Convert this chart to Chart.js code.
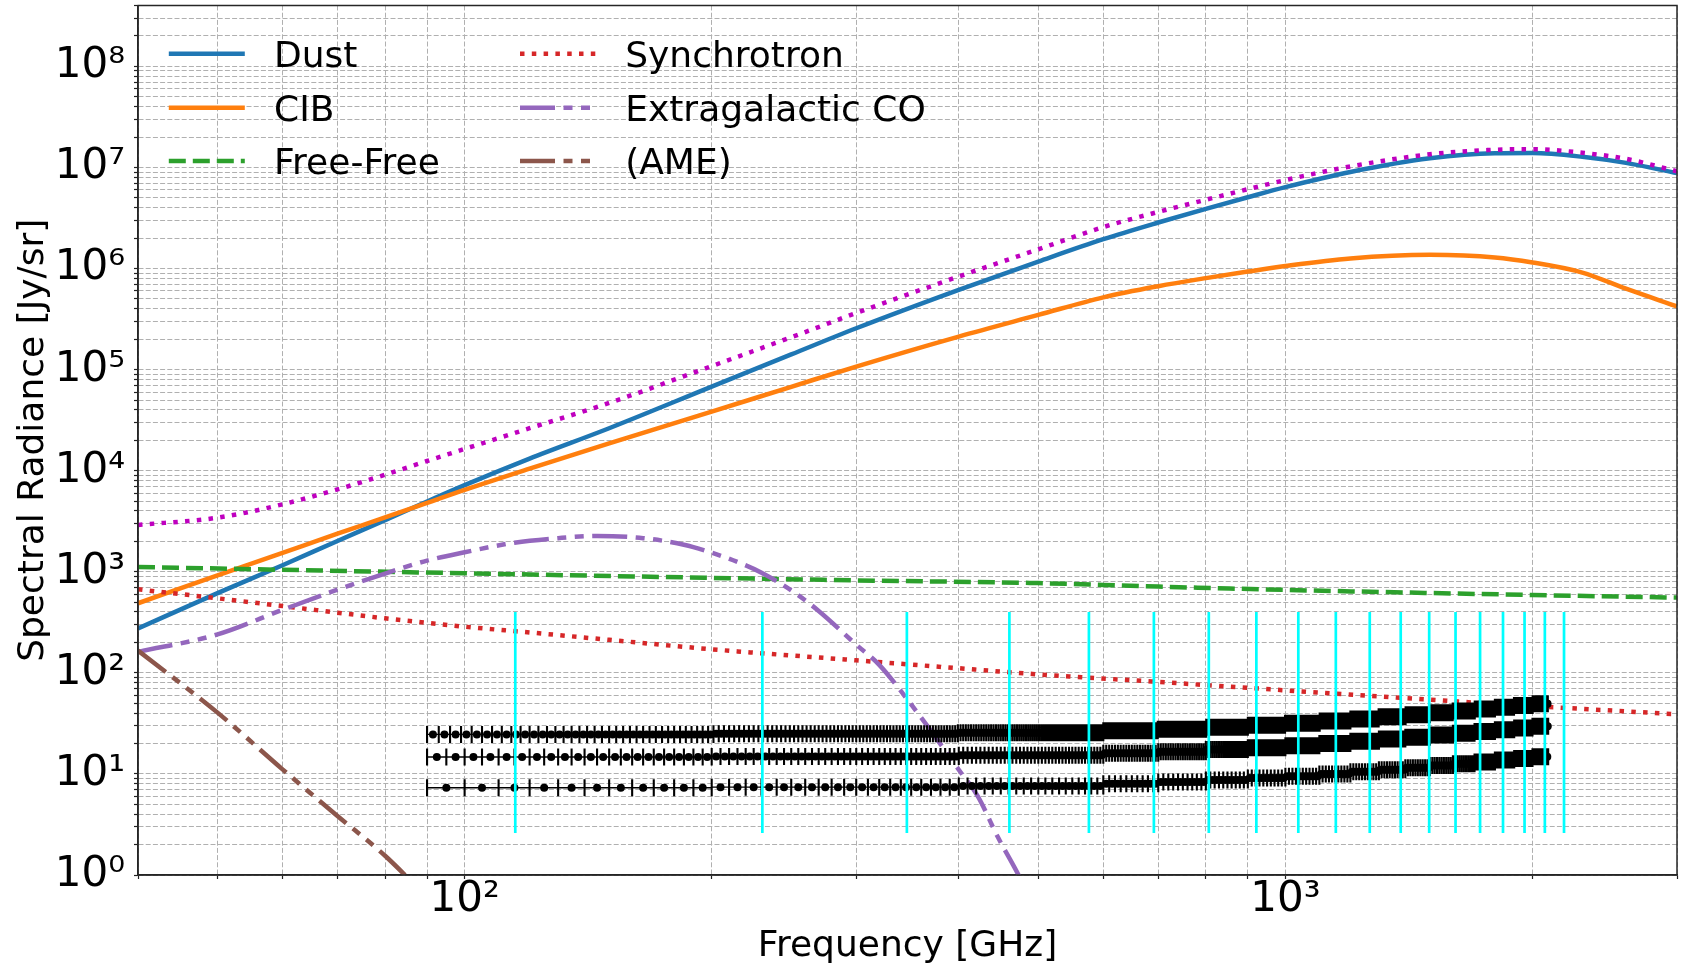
<!DOCTYPE html>
<html>
<head>
<meta charset="utf-8">
<script src="https://cdn.jsdelivr.net/npm/chart.js"></script>
<style>
html, body { margin: 0; padding: 0; background: #ffffff; }
#wrap { position: relative; width: 1686px; height: 968px; }
canvas { display: block; }
</style>
</head>
<body>
<div id="wrap"><canvas id="c" width="1686" height="968"></canvas></div>
<script>
// ---------------- Data ----------------
// Frequencies in GHz, spectral radiance in Jy/sr
const freqDust = [40,50,60,70,80,90,100,120,150,200,250,300,400,500,600,700,800,900,1000,1200,1500,1800,2000,2300,2600,3000];
const dust = [275,614,1161,2018,3236,4955,7194,13180,26300,67920,141300,256400,615200,1172000,1950000,2851000,3890000,5070000,6383000,9016000,12300000,13800000,13870000,12740000,11090000,8790000];
const cib = [488,920,1538,2377,3443,4797,6457,10470,18620,38370,67610,107200,212300,347500,518800,668300,803500,933300,1059000,1259000,1365000,1288000,1148000,912000,631000,421700];
const total = [2904,3428,4645,6531,9120,12470,16410,26300,46770,108400,208900,363100,833700,1549000,2570000,3631000,4786000,6095000,7499000,10230000,13490000,14960000,15140000,13960000,12160000,9160000];

const freqFF = [40,100,200,300,500,700,1000,2000,3000];
const freeFree = [1115,966,870,822,772,713,661,589,555];

const freqSync = [40,50,60,70,80,100,120,150,200,300,400,500,700,1000,1300,1800,2300,3000];
const synchrotron = [670,546,458,394,346,286,251,212,171,133,111,96.6,81.3,67.1,58.5,49.3,44,38.9];

const freqCO = [40,50,60,70,80,90,100,115,130,145,165,185,200,215,230,250,270,300,320,346,366,400,422,446,473,500];
const extragalacticCO = [161,240,420,665,960,1290,1560,1940,2150,2260,2150,1850,1545,1250,980,655,410,190,120,55,30,11,6,2.4,1.0,0.4];

const freqAME = [40,50,60,70,80,90];
const ame = [166,40.4,11.1,3.84,1.55,0.6];

// CO rotational line frequencies (GHz) marked by cyan lines, and their vertical extent
const coLineFreqs = [115.27,230.54,345.80,461.04,576.27,691.47,806.65,921.80,1036.91,1151.99,1267.01,1381.99,1496.92,1611.79,1726.60,1841.35,1956.02,2070.62,2185.13];
const coLineLow = 2.6;
const coLineHigh = 400;

// Binned noise curves (x error bars = bin width)
const binStart = 90;
const binStop = 2090;
const binWidths = [3, 5, 10];
const noiseSegEdges = [90,200,400,600,700,800,900,1000,1100,1200,1300,1400,1500,1600,1700,1800,1900,2000,2090];
const noise3GHz  = [24.6,24.9,25.5,26.7,27.7,29.0,30.3,31.7,33.3,35.0,36.8,38.5,40.3,42.0,43.8,45.7,47.5,49.5];
const noise5GHz  = [14.7,14.9,15.3,16.0,16.6,17.4,18.2,19.0,20.0,21.0,22.1,23.1,24.2,25.2,26.3,27.4,28.5,29.7];
const noise10GHz = [7.3,7.4,7.6,8.0,8.3,8.7,9.1,9.5,10.0,10.5,11.0,11.5,12.1,12.6,13.1,13.7,14.2,14.8];

// Axes
const xMin = 40, xMax = 3000;
const yMin = 1, yMax = 4e8;
const xMajorTicks = [100, 1000];
const xTickLabels = ['10\u00B2', '10\u00B3'];
const yMajorTicks = [1,10,100,1000,1e4,1e5,1e6,1e7,1e8];
const yTickLabels = ['10\u2070','10\u00B9','10\u00B2','10\u00B3','10\u2074','10\u2075','10\u2076','10\u2077','10\u2078'];
const tickMantissas = [1,2,3,4,5,6,7,8,9];

const legendOrder = ['Dust','CIB','Free-Free','Synchrotron','Extragalactic CO','(AME)'];

// ---------------- Helpers ----------------
function pairs(xs, ys) { return xs.map((x, i) => ({x: x, y: ys[i]})); }
function logTicks(min, max) {
  const out = [];
  for (let e = Math.floor(Math.log10(min)); e <= Math.ceil(Math.log10(max)); e++) {
    for (const m of tickMantissas) {
      const v = m * Math.pow(10, e);
      if (v >= min * (1 - 1e-9) && v <= max * (1 + 1e-9)) out.push(v);
    }
  }
  return out;
}
function segLevel(levels, f) {
  for (let i = 0; i < noiseSegEdges.length - 1; i++) {
    if (f < noiseSegEdges[i + 1]) return levels[i];
  }
  return levels[levels.length - 1];
}
function binnedPoints(width, levels) {
  const n = Math.floor((binStop - binStart) / width + 1e-9);
  const pts = [];
  for (let i = 0; i < n; i++) {
    const c = binStart + i * width + width / 2;
    pts.push({x: c, y: segLevel(levels, c)});
  }
  return pts;
}
const coLineData = [];
coLineFreqs.forEach(f => { coLineData.push({x: f, y: coLineLow}, {x: f, y: coLineHigh}, {x: f, y: null}); });

const FONT = 'DejaVu Sans';
Chart.defaults.font.family = FONT;

// ---------------- Plugins ----------------
const xErrorBars = {
  id: 'xErrorBars',
  beforeDatasetDraw(chart, args) {
    const ds = chart.data.datasets[args.index];
    if (!ds.binWidth) return;
    const {ctx, chartArea: a, scales} = chart;
    const xs = scales.x;
    ctx.save();
    ctx.beginPath();
    ctx.rect(a.left, a.top, a.right - a.left, a.bottom - a.top);
    ctx.clip();
    ctx.strokeStyle = '#000';
    ctx.lineWidth = 1.4;
    ctx.beginPath();
    args.meta.data.forEach((pt, i) => {
      const d = ds.data[i];
      const xl = xs.getPixelForValue(d.x - ds.binWidth / 2);
      const xr = xs.getPixelForValue(d.x + ds.binWidth / 2);
      ctx.moveTo(xl, pt.y); ctx.lineTo(xr, pt.y);
    });
    ctx.stroke();
    ctx.lineWidth = 2.1;
    ctx.beginPath();
    args.meta.data.forEach((pt, i) => {
      const d = ds.data[i];
      const xl = xs.getPixelForValue(d.x - ds.binWidth / 2);
      const xr = xs.getPixelForValue(d.x + ds.binWidth / 2);
      ctx.moveTo(xl, pt.y - 8.5); ctx.lineTo(xl, pt.y + 8.5);
      ctx.moveTo(xr, pt.y - 8.5); ctx.lineTo(xr, pt.y + 8.5);
    });
    ctx.stroke();
    ctx.restore();
  }
};

const frameBox = {
  id: 'frameBox',
  afterDatasetsDraw(chart) {
    const {ctx, chartArea: a} = chart;
    ctx.save();
    ctx.strokeStyle = '#262626';
    ctx.lineWidth = 1.5;
    ctx.setLineDash([]);
    ctx.strokeRect(a.left, a.top, a.right - a.left, a.bottom - a.top);
    ctx.restore();
  }
};

const twoColumnLegend = {
  id: 'twoColumnLegend',
  afterDraw(chart, args, opts) {
    const ctx = chart.ctx;
    legendOrder.forEach((label, k) => {
      const ds = chart.data.datasets.find(d => d.label === label);
      if (!ds) return;
      const col = Math.floor(k / 3), row = k % 3;
      const x0 = opts.colX[col], y = opts.rowY[row];
      ctx.save();
      ctx.strokeStyle = ds.borderColor;
      ctx.lineWidth = ds.borderWidth;
      ctx.lineCap = 'butt';
      ctx.setLineDash(ds.borderDash || []);
      ctx.beginPath();
      ctx.moveTo(x0, y);
      ctx.lineTo(x0 + opts.sampleLen, y);
      ctx.stroke();
      ctx.setLineDash([]);
      ctx.fillStyle = '#000';
      ctx.font = opts.fontSize + 'px "' + FONT + '"';
      ctx.textAlign = 'left';
      ctx.textBaseline = 'alphabetic';
      ctx.fillText(label, x0 + opts.textGap, y + 0.3645 * opts.fontSize);
      ctx.restore();
    });
  }
};

// ---------------- Chart ----------------
const curve = {pointRadius: 0, pointHoverRadius: 0, fill: false, cubicInterpolationMode: 'monotone', clip: 0, borderWidth: 4.5};
const DOT = [4.5, 7.3];
const DASHDOTDOT = [35, 8.5, 9, 8.5, 9, 8.5];

const noiseStyle = {showLine: false, pointRadius: 4, pointHoverRadius: 4, pointBackgroundColor: '#000', pointBorderColor: '#000', pointBorderWidth: 0, borderColor: '#000', order: 1};

const datasets = [
  {label: 'CO lines', data: coLineData, borderColor: '#00ffff', borderWidth: 2.7, pointRadius: 0, pointHoverRadius: 0, spanGaps: false, clip: 0, order: 0},
  Object.assign({label: 'Noise 3 GHz', data: binnedPoints(binWidths[0], noise3GHz), binWidth: binWidths[0]}, noiseStyle),
  Object.assign({label: 'Noise 5 GHz', data: binnedPoints(binWidths[1], noise5GHz), binWidth: binWidths[1]}, noiseStyle),
  Object.assign({label: 'Noise 10 GHz', data: binnedPoints(binWidths[2], noise10GHz), binWidth: binWidths[2]}, noiseStyle),
  Object.assign({label: 'Total', data: pairs(freqDust, total), borderColor: '#bf00bf', borderDash: DOT, order: 2}, curve),
  Object.assign({label: '(AME)', data: pairs(freqAME, ame), borderColor: '#8c564b', borderDash: DASHDOTDOT, order: 3}, curve),
  Object.assign({label: 'Extragalactic CO', data: pairs(freqCO, extragalacticCO), borderColor: '#9467bd', borderDash: DASHDOTDOT, order: 4}, curve),
  Object.assign({label: 'Synchrotron', data: pairs(freqSync, synchrotron), borderColor: '#d62728', borderDash: DOT, order: 5}, curve),
  Object.assign({label: 'Free-Free', data: pairs(freqFF, freeFree), borderColor: '#2ca02c', borderDash: [17, 7], order: 6}, curve),
  Object.assign({label: 'CIB', data: pairs(freqDust, cib), borderColor: '#ff7f0e', order: 7}, curve),
  Object.assign({label: 'Dust', data: pairs(freqDust, dust), borderColor: '#1f77b4', order: 8}, curve)
];

const gridOpts = {color: '#b0b0b0', lineWidth: 1, tickLength: 4, tickColor: '#222', tickWidth: 1.2, drawTicks: true, drawOnChartArea: true};
const borderOpts = {display: true, color: '#262626', width: 1.5, dash: [5, 2.2]};

new Chart(document.getElementById('c'), {
  type: 'line',
  data: {datasets: datasets},
  plugins: [xErrorBars, frameBox, twoColumnLegend],
  options: {
    responsive: false,
    devicePixelRatio: 1,
    animation: false,
    events: [],
    layout: {padding: {left: 0, right: 9, top: 5.5, bottom: 0}},
    plugins: {
      legend: {display: false},
      tooltip: {enabled: false},
      title: {display: false},
      twoColumnLegend: {colX: [168.8, 520], rowY: [53.8, 107.8, 161], sampleLen: 76, textGap: 105.2, fontSize: 36}
    },
    scales: {
      x: {
        type: 'logarithmic', min: xMin, max: xMax,
        afterBuildTicks: s => { s.ticks = logTicks(xMin, xMax).map(v => ({value: v})); },
        afterFit: s => { s.height = 93; s.paddingLeft = 0; s.paddingRight = 0; },
        ticks: {
          autoSkip: false, maxRotation: 0, minRotation: 0, padding: 0, color: '#000',
          font: {family: FONT, size: 42, lineHeight: 1},
          callback: v => { const i = xMajorTicks.indexOf(v); return i >= 0 ? xTickLabels[i] : ''; }
        },
        grid: gridOpts,
        border: borderOpts,
        title: {display: true, text: 'Frequency [GHz]', color: '#000', font: {family: FONT, size: 36}, padding: {top: 0, bottom: 0}}
      },
      y: {
        type: 'logarithmic', min: yMin, max: yMax,
        afterBuildTicks: s => { s.ticks = logTicks(yMin, yMax).map(v => ({value: v})); },
        afterFit: s => { s.width = 138; s.paddingTop = 0; s.paddingBottom = 0; },
        ticks: {
          autoSkip: false, padding: 9, color: '#000',
          font: {family: FONT, size: 42},
          callback: v => { const i = yMajorTicks.indexOf(v); return i >= 0 ? yTickLabels[i] : ''; }
        },
        grid: gridOpts,
        border: borderOpts,
        title: {display: true, text: 'Spectral Radiance [Jy/sr]', color: '#000', font: {family: FONT, size: 36}, padding: {top: 12.4, bottom: 0}}
      }
    }
  }
});
</script>
</body>
</html>
